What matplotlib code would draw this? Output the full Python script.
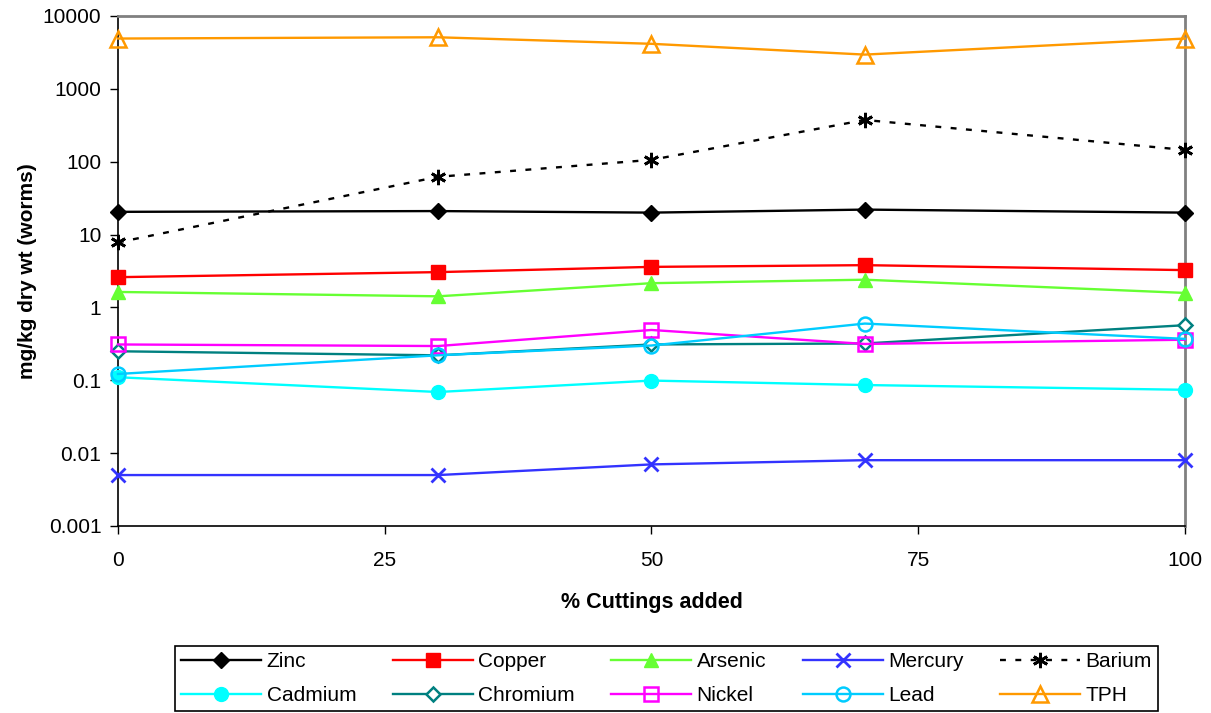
import numpy as np
import matplotlib
matplotlib.use('Agg')
import matplotlib.pyplot as plt

plt.rcParams['font.family'] = ['Liberation Sans', 'DejaVu Sans']

cuttings = [0, 30, 50, 70, 100]

zinc = [20.5, 21, 20, 22, 20]
copper = [2.6, 3.05, 3.6, 3.8, 3.25]
arsenic = [1.63, 1.42, 2.15, 2.4, 1.58]
mercury = [0.005, 0.005, 0.007, 0.008, 0.008]
barium = [7.8, 62, 106, 374, 145]
cadmium = [0.11, 0.069, 0.099, 0.086, 0.074]
chromium = [0.25, 0.22, 0.31, 0.32, 0.57]
nickel = [0.31, 0.295, 0.49, 0.315, 0.36]
lead = [0.122, 0.22, 0.30, 0.60, 0.37]
tph = [4900, 5100, 4150, 2950, 4900]

x_ticks = [0, 25, 50, 75, 100]
y_ticks = [0.001, 0.01, 0.1, 1, 10, 100, 1000, 10000]
y_labels = ['0.001', '0.01', '0.1', '1', '10', '100', '1000', '10000']

series = [
    ('Zinc', zinc, dict(color='black', marker='D', ms=8, mfc='black')),
    ('Copper', copper, dict(color='#FF0000', marker='s', ms=10, mfc='#FF0000')),
    ('Arsenic', arsenic, dict(color='#66FF33', marker='^', ms=10, mfc='#66FF33')),
    ('Mercury', mercury, dict(color='#3333FF', marker='x', ms=10, mew=2)),
    ('Barium', barium, dict(color='black', marker=(6, 2, 0), ms=11, mew=2, ls=(0, (2.5, 4)))),
    ('Cadmium', cadmium, dict(color='#00FFFF', marker='o', ms=10, mfc='#00FFFF')),
    ('Chromium', chromium, dict(color='#008080', marker='D', ms=7, mfc='white', mew=1.8)),
    ('Nickel', nickel, dict(color='#FF00FF', marker='s', ms=10, mfc='none', mew=1.8)),
    ('Lead', lead, dict(color='#00CCFF', marker='o', ms=10, mfc='none', mew=1.8)),
    ('TPH', tph, dict(color='#FF9900', marker='^', ms=11, mfc='none', mew=1.8)),
]

fig = plt.figure(figsize=(12.11, 7.13), dpi=100)
ax = fig.add_axes([0.0974, 0.2623, 0.8811, 0.7153])

handles = {}
for name, vals, style in series:
    kw = dict(lw=1.7)
    kw.update(style)
    h, = ax.plot(cuttings, vals, label=name, clip_on=False, zorder=3, **kw)
    handles[name] = h

ax.set_yscale('log')
ax.set_ylim(0.001, 10000)
ax.set_xlim(0, 100)
ax.set_xticks(x_ticks)
ax.set_xticklabels([str(t) for t in x_ticks])
ax.set_yticks(y_ticks)
ax.set_yticklabels(y_labels)
ax.minorticks_off()
ax.tick_params(axis='both', direction='out', length=6, width=1, labelsize=15)
ax.tick_params(axis='x', pad=12)
ax.tick_params(axis='y', pad=6)

for s in ['top', 'right']:
    ax.spines[s].set_color('#808080')
    ax.spines[s].set_linewidth(2)
for s in ['left', 'bottom']:
    ax.spines[s].set_color('black')
    ax.spines[s].set_linewidth(1.2)

ax.set_xlabel('% Cuttings added', fontsize=15.5, fontweight='bold', labelpad=16)
ax.set_ylabel('mg/kg dry wt (worms)', fontsize=15, fontweight='bold', labelpad=4)

order = ['Zinc', 'Cadmium', 'Copper', 'Chromium', 'Arsenic', 'Nickel',
         'Mercury', 'Lead', 'Barium', 'TPH']
leg = fig.legend([handles[n] for n in order], order, ncol=5,
                 loc='lower center', bbox_to_anchor=(0.5504, -0.012),
                 fontsize=15, handlelength=3.85, columnspacing=1.75,
                 handletextpad=0.25, labelspacing=0.7, borderpad=0.3,
                 fancybox=False, edgecolor='black', framealpha=1)
leg.get_frame().set_linewidth(1.2)

fig.savefig('out.png', dpi=100)
